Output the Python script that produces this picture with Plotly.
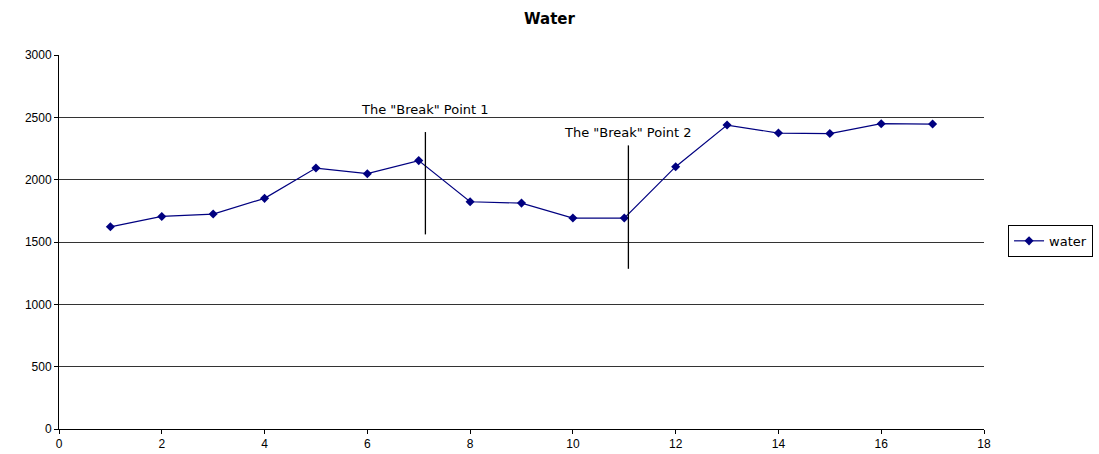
import plotly.graph_objects as go

# Water measurements per period
periods = [1, 2, 3, 4, 5, 6, 7, 8, 9, 10, 11, 12, 13, 14, 15, 16, 17]
water = [1622, 1705, 1724, 1850, 2093, 2048, 2153, 1823, 1812, 1692, 1692,
         2104, 2438, 2374, 2370, 2449, 2446]

# Break point markers: x position, vertical span, label and label placement
break_x = [7.13, 11.08]
break_y0 = [1561, 1285]
break_y1 = [2382, 2275]
break_labels = ['The "Break" Point 1', 'The "Break" Point 2']
label_x = [7.13, 11.08]
label_y = [2560, 2375]

x_ticks = list(range(0, 19, 2))
y_ticks = list(range(0, 3001, 500))

TICK_FONT = "Liberation Sans, Arial, sans-serif"
TEXT_FONT = "DejaVu Sans, Verdana, sans-serif"

fig = go.Figure()
fig.add_trace(go.Scatter(
    x=periods, y=water, name="water", mode="lines+markers",
    line=dict(color="#000080", width=1.2),
    marker=dict(symbol="diamond", size=7, color="#000080"),
))

for bx, y0, y1 in zip(break_x, break_y0, break_y1):
    fig.add_shape(type="line", x0=bx, x1=bx, y0=y0, y1=y1, xref="x", yref="y",
                  line=dict(color="black", width=1.3))

for lx, ly, txt in zip(label_x, label_y, break_labels):
    fig.add_annotation(x=lx, y=ly, text=txt, showarrow=False, xref="x", yref="y",
                       font=dict(family=TEXT_FONT, size=13, color="black"))

fig.update_layout(
    width=1099, height=454,
    margin=dict(l=59, r=115, t=55, b=25, autoexpand=False),
    paper_bgcolor="white", plot_bgcolor="white",
    title=dict(text="<b>Water</b>", x=0.5, xref="container", xanchor="center",
               y=1 - 19 / 454, yref="container", yanchor="middle",
               font=dict(family=TEXT_FONT, size=15, color="black")),
    showlegend=True,
    legend=dict(x=1.026, y=0.503, xanchor="left", yanchor="middle",
                bordercolor="black", borderwidth=1, bgcolor="white",
                font=dict(family=TEXT_FONT, size=13, color="black"),
                itemwidth=30, tracegroupgap=0),
    xaxis=dict(range=[0, 18], tickvals=x_ticks, showgrid=False, zeroline=False,
               automargin=False,
               showline=True, linecolor="black", linewidth=1,
               ticks="outside", ticklen=4, tickcolor="black",
               tickfont=dict(family=TICK_FONT, size=12, color="black")),
    yaxis=dict(range=[0, 3000], tickvals=y_ticks, showgrid=True,
               gridcolor="#333333", gridwidth=1, zeroline=False,
               automargin=False,
               showline=True, linecolor="black", linewidth=1,
               ticks="outside", ticklen=4, tickcolor="black",
               tickfont=dict(family=TICK_FONT, size=12, color="black")),
)

fig.write_html("out.html")
